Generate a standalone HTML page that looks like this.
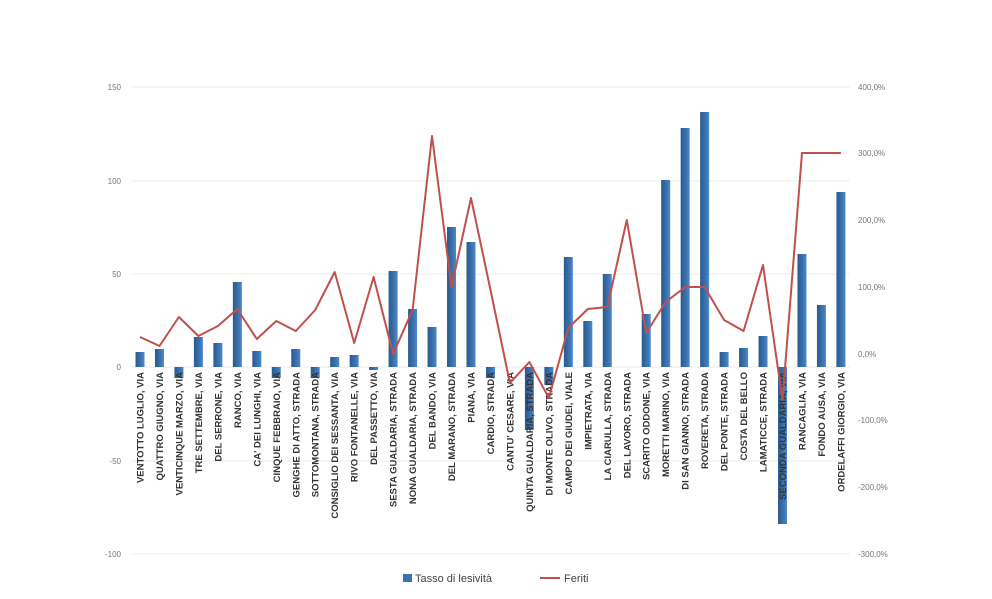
<!DOCTYPE html>
<html><head><meta charset="utf-8"><style>
html,body{margin:0;padding:0;background:#fff;}
svg{display:block;font-family:"Liberation Sans",sans-serif;}
</style></head><body>
<svg width="992" height="599" viewBox="0 0 992 599" xmlns="http://www.w3.org/2000/svg">
<defs><linearGradient id="g" x1="0" x2="1" y1="0" y2="0"><stop offset="0" stop-color="#2a5a8e"/><stop offset="0.6" stop-color="#3b72b0"/><stop offset="1" stop-color="#4d8acb"/></linearGradient></defs>
<g stroke="#ececec" stroke-width="1">
<line x1="131" y1="87" x2="850" y2="87"/><line x1="131" y1="181" x2="850" y2="181"/><line x1="131" y1="274" x2="850" y2="274"/><line x1="131" y1="367" x2="850" y2="367"/><line x1="131" y1="461" x2="850" y2="461"/><line x1="131" y1="554" x2="850" y2="554"/>
</g>
<g font-size="8" fill="#777" text-anchor="end">
<text x="121" y="90">150</text><text x="121" y="184">100</text><text x="121" y="277">50</text><text x="121" y="370">0</text><text x="121" y="464">-50</text><text x="121" y="557">-100</text>
</g>
<g font-size="8" fill="#777">
<text x="858" y="90">400,0%</text><text x="858" y="156">300,0%</text><text x="858" y="223">200,0%</text><text x="858" y="290">100,0%</text><text x="858" y="357">0,0%</text><text x="858" y="423">-100,0%</text><text x="858" y="490">-200,0%</text><text x="858" y="557">-300,0%</text>
</g>
<g id="bars" fill="url(#g)"></g>
<g id="labels" font-size="9.5" font-weight="bold" fill="#333" text-anchor="end"></g>
<polyline id="line" fill="none" stroke="#c0504d" stroke-width="2" stroke-linejoin="round"/>
<rect x="403" y="574" width="9" height="8" fill="#3b72b0"/>
<text x="415" y="582" font-size="11" fill="#444">Tasso di lesività</text>
<line x1="540" y1="578" x2="560" y2="578" stroke="#c0504d" stroke-width="2"/>
<text x="564" y="582" font-size="11" fill="#444">Feriti</text>
</svg>
<script>
var names=["VENTOTTO LUGLIO, VIA","QUATTRO GIUGNO, VIA","VENTICINQUE MARZO, VIA","TRE SETTEMBRE, VIA","DEL SERRONE, VIA","RANCO, VIA","CA' DEI LUNGHI, VIA","CINQUE FEBBRAIO, VIA","GENGHE DI ATTO, STRADA","SOTTOMONTANA, STRADA","CONSIGLIO DEI SESSANTA, VIA","RIVO FONTANELLE, VIA","DEL PASSETTO, VIA","SESTA GUALDARIA, STRADA","NONA GUALDARIA, STRADA","DEL BANDO, VIA","DEL MARANO, STRADA","PIANA, VIA","CARDIO, STRADA","CANTU' CESARE, VIA","QUINTA GUALDARIA, STRADA","DI MONTE OLIVO, STRADA","CAMPO DEI GIUDEI, VIALE","IMPIETRATA, VIA","LA CIARULLA, STRADA","DEL LAVORO, STRADA","SCARITO ODDONE, VIA","MORETTI MARINO, VIA","DI SAN GIANNO, STRADA","ROVERETA, STRADA","DEL PONTE, STRADA","COSTA DEL BELLO","LAMATICCE, STRADA","SECONDA GUALDARIA, VIA","RANCAGLIA, VIA","FONDO AUSA, VIA","ORDELAFFI GIORGIO, VIA"];
var bar=[352,349,378,337,343,282,351,378,349,378,357,355,370,271,309,327,227,242,378,367,430,385,257,321,274,367,314,180,128,112,352,348,336,524,254,305,192];
var ln=[337,346,317,336,326,309,339,321,331,310,272,343,277,354,310,136,287,198,290,383,362,398,328,309,307,220,333,302,287,287,320,331,265,400,153,153,153];
var ns="http://www.w3.org/2000/svg",B=document.getElementById("bars"),L=document.getElementById("labels"),pts=[];
for(var i=0;i<37;i++){var x=140+i*19.47;var y0=367,y1=bar[i];
var r=document.createElementNS(ns,"rect");r.setAttribute("x",x-4.5);r.setAttribute("width",9);r.setAttribute("y",Math.min(y0,y1));r.setAttribute("height",Math.max(Math.abs(y1-y0),0.01));B.appendChild(r);
var t=document.createElementNS(ns,"text");t.setAttribute("transform","translate("+(x+3.5)+",372) rotate(-90)");t.textContent=names[i];L.appendChild(t);
pts.push(x.toFixed(1)+","+ln[i]);}
document.getElementById("line").setAttribute("points",pts.join(" "));
</script>
</body></html>
